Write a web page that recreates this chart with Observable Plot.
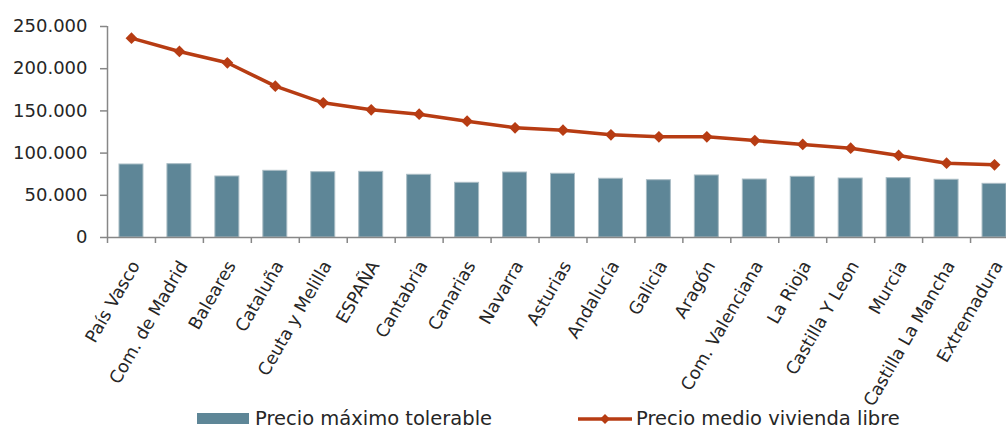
<!DOCTYPE html>
<html>
<head>
<meta charset="utf-8">
<script src="https://cdn.jsdelivr.net/npm/d3@7"></script>
<script src="https://cdn.jsdelivr.net/npm/@observablehq/plot@0.6"></script>
<style>
  html, body { margin: 0; padding: 0; background: #fff; overflow: hidden; }
  #wrap { position: relative; width: 1006px; height: 428px; font-family: "DejaVu Sans", sans-serif; color: #262626; }
  #legend { position: absolute; left: 0; top: 407px; width: 1006px; height: 21px; font-size: 19.5px; }
  .item { position: absolute; top: 0; white-space: nowrap; }
</style>
</head>
<body>
<div id="wrap">
  <div id="chart"></div>
  <div id="legend"></div>
</div>
<script>
const categories = ["País Vasco","Com. de Madrid","Baleares","Cataluña","Ceuta y Melilla","ESPAÑA","Cantabria","Canarias","Navarra","Asturias","Andalucía","Galicia","Aragón","Com. Valenciana","La Rioja","Castilla Y Leon","Murcia","Castilla La Mancha","Extremadura"];
const precioMaximoTolerable = [86500, 86900, 72300, 79000, 77400, 77800, 74300, 64800, 77000, 75500, 69600, 67900, 73500, 68700, 71900, 69900, 70300, 68400, 63600];
const precioMedioLibre = [236200, 220400, 207000, 179300, 159600, 151300, 146100, 137800, 130000, 127200, 121700, 119300, 119300, 114900, 110200, 105800, 97200, 88000, 86100];
const yTicks = [0, 50000, 100000, 150000, 200000, 250000];
const yTickLabels = ["0", "50.000", "100.000", "150.000", "200.000", "250.000"];
const seriesNames = ["Precio máximo tolerable", "Precio medio vivienda libre"];

const data = categories.map((c, i) => ({cat: c, tol: precioMaximoTolerable[i], libre: precioMedioLibre[i]}));

const W = 1006, H = 428, ML = 107, MR = -12, MT = 26, MB = 191;
const step = (W - ML - MR) / categories.length;
const halfStep = step / 2;
const barColor = "#5e8697";
const lineColor = "#b73c13";
const axisColor = "#878787";

const chart = Plot.plot({
  width: W, height: H,
  marginLeft: ML, marginRight: 0, marginTop: MT, marginBottom: MB,
  style: {fontFamily: "DejaVu Sans, sans-serif", color: "#262626", background: "transparent", overflow: "visible"},
  x: {domain: categories, padding: 0.5, round: false, range: [ML - step / 4, W - MR + step / 4], axis: null},
  y: {domain: [0, 250000], axis: null},
  marks: [
    Plot.barY(data, {x: "cat", y: "tol", fill: barColor, stroke: "#a9bcc4", strokeWidth: 1}),
    Plot.ruleY([0], {stroke: axisColor, strokeWidth: 1.5}),
    Plot.ruleX([categories[0]], {y1: 0, y2: 250000, dx: -halfStep, stroke: axisColor, strokeWidth: 1.5}),
    Plot.axisX({tickSize: 6, fill: "none", stroke: axisColor, strokeWidth: 1.5, dx: -halfStep, label: null}),
    Plot.axisX({tickSize: 0, tickRotate: -60, tickPadding: 25, dx: 4, fontSize: 17.5, fill: "#262626", label: null}),
    Plot.axisY({ticks: yTicks, tickFormat: d => yTickLabels[yTicks.indexOf(d)], tickSize: 7, tickPadding: 13, fontSize: 18, stroke: axisColor, strokeWidth: 1.5, fill: "#262626", label: null}),
    Plot.line(data, {x: "cat", y: "libre", stroke: lineColor, strokeWidth: 3.5}),
    Plot.dot(data, {x: "cat", y: "libre", symbol: "diamond2", r: 5.3, fill: lineColor, stroke: "none"})
  ]
});
document.getElementById("chart").appendChild(chart);

const legend = document.getElementById("legend");
legend.innerHTML = `
  <div class="item" style="left:197px;top:6px;width:52px;height:11px;background:${barColor}"></div>
  <div class="item" style="left:255px;top:0px;">${seriesNames[0]}</div>
  <svg class="item" style="left:577px;top:5px;" width="56" height="14">
    <line x1="1" y1="7" x2="55" y2="7" stroke="${lineColor}" stroke-width="3.5"/>
    <path d="M28,2 L33,7 L28,12 L23,7 Z" fill="${lineColor}"/>
  </svg>
  <div class="item" style="left:636px;top:0px;">${seriesNames[1]}</div>
`;
</script>
</body>
</html>
